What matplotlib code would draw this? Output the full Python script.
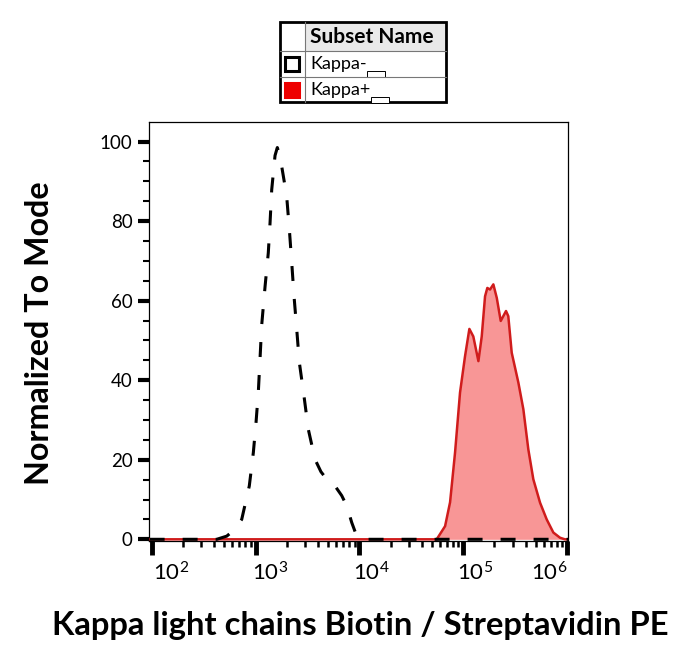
import matplotlib
matplotlib.use("Agg")
import matplotlib.pyplot as plt
import matplotlib.transforms as mtrans
from matplotlib.patches import Rectangle
import numpy as np

plt.rcParams['font.family'] = ['Lato', 'DejaVu Sans']
plt.rcParams['mathtext.fontset'] = 'custom'
plt.rcParams['mathtext.rm'] = 'Lato'
plt.rcParams['mathtext.it'] = 'Lato'

# data (x given as log10 of intensity)
neg_logx = [1.98, 2.626, 2.723, 2.80, 2.867, 2.94, 2.979, 3.005, 3.027, 3.043, 3.060,
            3.092, 3.123, 3.140, 3.156, 3.188, 3.21, 3.236, 3.27, 3.300, 3.326, 3.349,
            3.371, 3.397, 3.422, 3.467, 3.509, 3.573, 3.63, 3.686, 3.766, 3.83, 3.879,
            3.927, 3.975, 4.007, 6.01]
neg_y = [0, 0, 0.8, 2.5, 5.0, 13.4, 21.8, 29.4, 37.0, 45.2, 54.0,
         63.6, 72.0, 79.6, 87.9, 96.5, 98.5, 96.3, 91.0, 86.3, 77.9, 69.5,
         61.1, 52.8, 44.5, 36.0, 27.6, 20.1, 17.0, 15.1, 13.4, 11.0, 8.4,
         4.2, 0.8, 0, 0]

pos_logx = [1.98, 4.745, 4.826, 4.874, 4.922, 4.970, 5.018, 5.060, 5.098, 5.147, 5.179,
            5.211, 5.233, 5.259, 5.291, 5.324, 5.362, 5.413, 5.435, 5.468, 5.532,
            5.580, 5.628, 5.676, 5.741, 5.805, 5.869, 5.933, 5.98, 6.01]
pos_y = [0, 0, 3.3, 9.3, 21.8, 36.9, 46.0, 52.9, 51.0, 44.8, 51.0,
         61.1, 63.2, 62.8, 64.1, 60.7, 54.9, 57.4, 56.1, 46.9, 39.4,
         32.7, 22.6, 15.1, 9.2, 5.0, 1.7, 0.4, 0, 0]

subsets = ['Kappa-', 'Kappa+']
xticks = [1e2, 1e3, 1e4, 1e5, 1e6]
xticklabels = [r'$10^{2}$', r'$10^{3}$', r'$10^{4}$', r'$10^{5}$', r'$10^{6}$']
yticks = [0, 20, 40, 60, 80, 100]

fig = plt.figure(figsize=(6.84, 6.47), dpi=100)
ax = fig.add_axes([0.2183, 0.1646, 0.6121, 0.6473])

pos_x = 10 ** np.array(pos_logx)
neg_x = 10 ** np.array(neg_logx)
ax.fill_between(pos_x, pos_y, 0, color='#f89696', lw=0, zorder=2)
ax.plot(pos_x, pos_y, color='#d01c1c', lw=1.8, zorder=3)
ax.plot(neg_x, neg_y, color='black', lw=2.2, ls=(0, (4.9, 5.9)), zorder=4)

ax.set_xscale('log')
ax.set_xlim(10 ** 1.977, 10 ** 6.01)
ax.set_ylim(-0.3, 105)

ax.set_yticks(yticks)
ax.set_yticks(np.arange(0, 105, 5), minor=True)
ax.set_xticks(xticks)
ax.set_xticklabels(xticklabels)
ax.xaxis.set_minor_locator(matplotlib.ticker.LogLocator(base=10, subs=np.arange(2, 10)))
ax.xaxis.set_minor_formatter(matplotlib.ticker.NullFormatter())

ax.tick_params(axis='y', which='major', length=8, width=3, labelsize=13.5, pad=4)
ax.tick_params(axis='y', which='minor', length=4, width=1.5)
ax.tick_params(axis='x', which='major', length=10, width=3.5, labelsize=16, pad=5)
ax.tick_params(axis='x', which='minor', length=4, width=1.8)
for s in ax.spines.values():
    s.set_linewidth(0.9)

# shift x tick labels like the original
shifts = [(1, 'left'), (-4, 'left'), (-6, 'left'), (-6, 'left'), (0, 'right')]
for lab, (dx, ha) in zip(ax.get_xticklabels(), shifts):
    lab.set_ha(ha)
    lab.set_transform(lab.get_transform() + mtrans.ScaledTranslation(dx / 100, 0, fig.dpi_scale_trans))

ax.set_ylabel('Normalized To Mode', fontsize=23.2, fontweight='bold')
ax.set_xlabel('Kappa light chains Biotin / Streptavidin PE', fontsize=23.6,
              fontweight='bold')
ax.yaxis.set_label_coords(-0.228, 0.496)
ax.xaxis.set_label_coords(0.503, -0.168)

# legend table drawn in pixel coordinates
lg = fig.add_axes([0, 0, 1, 1], zorder=10)
lg.set_xlim(0, 684)
lg.set_ylim(647, 0)
lg.axis('off')
lg.add_patch(Rectangle((305, 22), 141, 29, facecolor='#e9e9e9', edgecolor='none'))
for yy in [51, 77]:
    lg.plot([280, 446], [yy, yy], color='#777777', lw=0.8)
lg.plot([305, 305], [22, 102], color='#777777', lw=0.8)
lg.add_patch(Rectangle((280, 22), 166, 80, facecolor='none', edgecolor='black', lw=2))
lg.text(310, 37, 'Subset Name', fontsize=15, fontweight='bold', va='center', ha='left')
swatch = [('white', 'black'), ('#ee0000', '#ee0000')]
rows_y = [64, 90]
for name, (fc, ec), yy in zip(subsets, swatch, rows_y):
    lg.add_patch(Rectangle((285, yy - 7), 14, 14, facecolor=fc, edgecolor=ec, lw=2.2))
    lg.text(310, yy, name, fontsize=13, va='center', ha='left')
box_x = [367, 371]
for bx, yy in zip(box_x, rows_y):
    lg.add_patch(Rectangle((bx, yy + 7), 18, 5.5, facecolor='white', edgecolor='black', lw=0.7))

fig.savefig('out.png', dpi=100)
